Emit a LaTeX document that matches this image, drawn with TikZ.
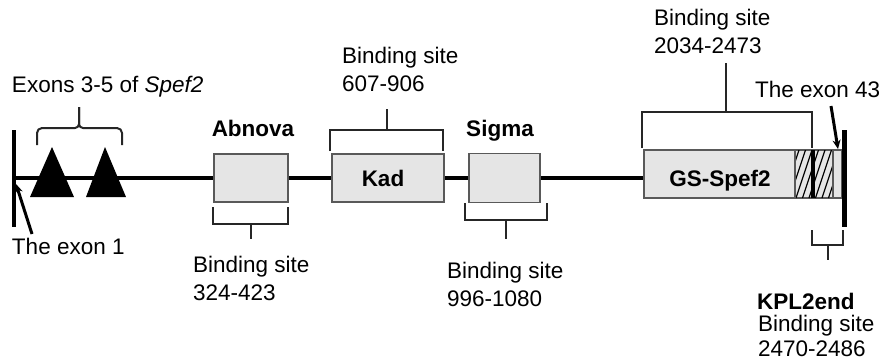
\documentclass[tikz,border=0pt]{standalone}
\usepackage{fontspec}
\setmainfont{Liberation Sans}
\usetikzlibrary{arrows.meta}
\begin{document}
\begin{tikzpicture}[x=1pt,y=-1pt,
  every node/.style={inner sep=0pt,outer sep=0pt,font=\fontsize{22.5}{28}\selectfont,text=black},
  lbl/.style={anchor=base west},
  blbl/.style={anchor=base,font=\fontsize{22.5}{28}\selectfont\bfseries},
  antigenbox/.style={draw=black!65,line width=1.2pt,fill=black!10,rectangle},
  backbone/.style={line width=4.5pt,black},
  exonbar/.style={line width=4.5pt,black},
  bracket/.style={line width=2pt,black!85,line join=miter},
  pointer/.style={line width=3pt,black,-{Stealth[length=9pt,width=8pt]}},
  hatch/.style={line width=1.2pt,black}]
\useasboundingbox (0,0) rectangle (882,360);

% backbone and exon bars
\coordinate (start) at (14,178);
\coordinate (stop) at (650,178);
\draw[backbone] (start) -- (stop);
\draw[exonbar] (14,130) -- (14,227);

% exons 3-5 (triangles); y runs downwards, so angle 270 points up
\fill[black] (30,197) -- (74,197) -- (52,147) -- cycle;
\fill[black] (86,197) -- (126,197) -- (105,147) -- cycle;
\draw[bracket,line join=round] (37,145) -- (37,133) arc[start angle=180,end angle=270,radius=5]
  -- (75,128) arc[start angle=90,end angle=0,radius=4] -- (79,107);
\draw[bracket,line join=round] (122,145) -- (122,133) arc[start angle=0,end angle=-90,radius=5]
  -- (83,128) arc[start angle=90,end angle=180,radius=4] -- (79,107);
\node[lbl] (exons) at (12,92) {Exons 3-5 of \textit{Spef2}};

% exon 1 pointer
\node[lbl] (exon1) at (12,254) {The exon 1};
\coordinate (e1tail) at (32,234);
\coordinate (e1tip) at (16,184);
\draw[pointer] (e1tail) -- (e1tip);

% antigen boxes
\node[antigenbox,minimum width=74pt,minimum height=48pt] (abnova) at (251,178) {};
\node[antigenbox,minimum width=112pt,minimum height=48pt] (kad) at (388,178) {};
\node[antigenbox,minimum width=71pt,minimum height=49pt] (sigma) at (504.5,178) {};
\node[antigenbox,minimum width=198pt,minimum height=48pt] (gs) at (743,174) {};

\node[blbl] at (383,186) {Kad};
\node[blbl] at (720,186) {GS-Spef2};
\node[blbl] (abnovalbl) at (253,136) {Abnova};
\node[blbl] (sigmalbl) at (500,136) {Sigma};

% hatched C-terminal segments
\begin{scope}
  \clip (795,150) rectangle (812,198) (814,150) rectangle (833,198);
  \foreach \x in {770,776.5,...,840}
    \draw[hatch] (\x,198) -- (\x+16,150);
\end{scope}
\draw[black!65,line width=1.2pt] (795,150) -- (795,198) (833,150) -- (833,198);
\draw[line width=3.5pt,black] (813,150) -- (813,198);
\draw[exonbar] (844.5,130) -- (844.5,227);

% binding site brackets
\draw[bracket] (330,151) -- (330,130) -- (443,130) -- (443,151) (387,130) -- (387,109);
\draw[bracket] (642,148) -- (642,112) -- (812,112) -- (812,148) (726,112) -- (726,63);
\draw[bracket] (213,207) -- (213,224) -- (288,224) -- (288,207) (251,224) -- (251,239);
\draw[bracket] (465,203) -- (465,220) -- (547,220) -- (547,203) (506,220) -- (506,239);
\draw[bracket] (812,230) -- (812,245) -- (843,245) -- (843,230) (828,245) -- (828,260);

% binding site labels
\node[lbl] (kadsite) at (342,63) {Binding site};
\node[lbl] (kadrange) at (342,91) {607-906};
\node[lbl] (gssite) at (654,25) {Binding site};
\node[lbl] (gsrange) at (654,53) {2034-2473};
\node[lbl] (absite) at (193,272) {Binding site};
\node[lbl] (abrange) at (193,300) {324-423};
\node[lbl] (sgsite) at (447,278) {Binding site};
\node[lbl] (sgrange) at (447,306) {996-1080};
\node[lbl,font=\fontsize{22.5}{28}\selectfont\bfseries] (kpl) at (757,309) {KPL2end};
\node[lbl] (kplsite) at (758,331) {Binding site};
\node[lbl] (kplrange) at (758,356) {2470-2486};

% exon 43 pointer
\node[lbl] (exon43) at (755,97) {The exon 43};
\coordinate (e43tail) at (831,106);
\coordinate (e43tip) at (838,149);
\draw[pointer] (e43tail) -- (e43tip);
\end{tikzpicture}
\end{document}
